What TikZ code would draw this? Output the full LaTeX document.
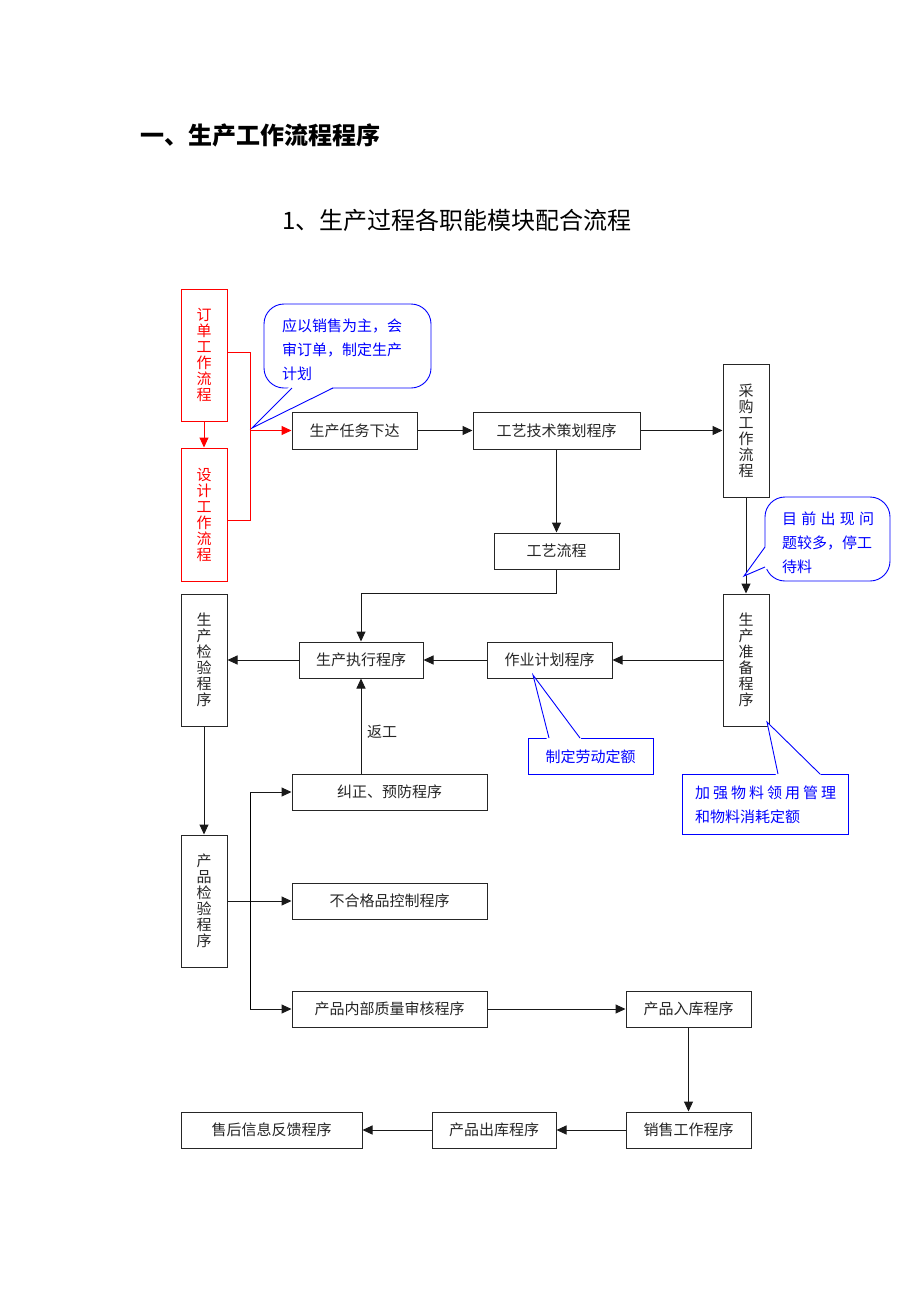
\documentclass[tikz,border=0pt]{standalone}
\usepackage{fontspec}
\setmainfont{Noto Sans CJK SC}
\usetikzlibrary{arrows.meta}
\begin{document}
\begin{tikzpicture}[x=1pt,y=-1pt,
  box/.style={draw=black!85, line width=1pt, fill=white, inner sep=0pt, font=\fontsize{15}{16}\selectfont, text=black!85},
  hbox/.style={box, minimum width=125pt, minimum height=36pt},
  wbox/.style={box, minimum width=195pt, minimum height=36pt},
  vbox/.style={box, minimum width=46pt, minimum height=132pt, align=center},
  rbox/.style={vbox, draw=red, text=red},
  arr/.style={-{Triangle[length=10pt,width=9pt]}, line width=1pt, draw=black!90},
  rarr/.style={-{Triangle[length=10pt,width=9pt]}, line width=1pt, draw=red},
  conn/.style={line width=1pt},
  call/.style={draw=blue, line width=0.9pt},
  ctext/.style={text=blue, font=\fontsize{15}{24}\selectfont, inner sep=0pt, anchor=north west, align=left},
  lbl/.style={text=black!85, font=\fontsize{15}{16}\selectfont, inner sep=0pt}
]
\useasboundingbox (0,0) rectangle (920,1302);

% titles
\node[anchor=west, inner sep=0pt, font=\fontsize{24}{28}\selectfont\bfseries] (title) at (140,135) {一、生产工作流程程序};
\node[anchor=west, inner sep=0pt, font=\fontsize{24}{28}\selectfont] (subtitle) at (282,220) {1、生产过程各职能模块配合流程};

% callout 1
\draw[call, fill=white, rounded corners=20pt] (264,304) rectangle (431,388);
\fill[white] (290,386) -- (335,386) -- (252,428) -- cycle;
\coordinate (tip1) at (252,428);
\draw[call] (292,388) -- (tip1) -- (333,388);
\node[ctext] (c1) at (282,319) {应以销售为主，会\\审订单，制定生产\\计划};

% boxes
\node[rbox] (dingdan) at (204,355) {订\\单\\工\\作\\流\\程};
\node[rbox, minimum height=133pt] (sheji) at (204,514.5) {设\\计\\工\\作\\流\\程};
\node[box, minimum width=125pt, minimum height=37pt] (renwu) at (354.5,430.5) {生产任务下达};
\node[box, minimum width=167pt, minimum height=37pt] (gongyi) at (556.5,430.5) {工艺技术策划程序};
\node[vbox, minimum height=133pt] (caigou) at (746,430.5) {采\\购\\工\\作\\流\\程};
\node[hbox] (liucheng) at (556.5,551) {工艺流程};
\node[vbox] (zhunbei) at (746,660) {生\\产\\准\\备\\程\\序};
\node[hbox, minimum width=124pt] (zhixing) at (361,660) {生产执行程序};
\node[vbox] (jianyan) at (204,660) {生\\产\\检\\验\\程\\序};
\node[hbox] (zuoye) at (549.5,660) {作业计划程序};
\node[wbox] (jiuzheng) at (389.5,792) {纠正、预防程序};
\node[wbox] (buhege) at (389.5,901) {不合格品控制程序};
\node[wbox] (neibu) at (389.5,1009) {产品内部质量审核程序};
\node[hbox] (ruku) at (688.5,1009) {产品入库程序};
\node[hbox] (xiaoshou) at (688.5,1130) {销售工作程序};
\node[hbox, minimum width=124pt] (chuku) at (494,1130) {产品出库程序};
\node[box, minimum width=181pt, minimum height=36pt] (shouhou) at (271.5,1130) {售后信息反馈程序};
\node[vbox] (cpjy) at (204,901) {产\\品\\检\\验\\程\\序};

% red connectors
\coordinate (rb) at (250,430.5);
\draw[rarr] (dingdan.south) -- (sheji.north);
\draw[conn, red] (dingdan.east |- 0,352) -- (250,352) -- (250,520) -- (sheji.east |- 0,520);
\draw[rarr] (rb) -- (renwu.west);

% black connectors
\draw[arr] (renwu) -- (gongyi);
\draw[arr] (gongyi) -- (caigou);
\draw[arr] (gongyi) -- (liucheng);
\draw[arr] (caigou) -- (zhunbei);
\draw[arr] (liucheng.south) -- (liucheng.south |- 0,593) -| (zhixing.north);
\draw[arr] (zhunbei) -- (zuoye);
\draw[arr] (zuoye) -- (zhixing);
\draw[arr] (zhixing) -- (jianyan);
\draw[arr] (jianyan) -- (cpjy);
\draw[arr] (jiuzheng.north -| zhixing.south) -- (zhixing.south);
\node[lbl] (fangong) at (382,732) {返工};
\coordinate (b1) at (250,792);
\coordinate (b2) at (250,1009);
\draw[arr] (cpjy) -- (buhege);
\draw[conn] (b1) -- (b2);
\draw[arr] (b1) -- (jiuzheng.west);
\draw[arr] (b2) -- (neibu.west);
\draw[arr] (neibu) -- (ruku);
\draw[arr] (ruku) -- (xiaoshou);
\draw[arr] (xiaoshou) -- (chuku);
\draw[arr] (chuku) -- (shouhou);

% callout 2
\draw[call, fill=white, rounded corners=20pt] (765,497) rectangle (890,581);
\fill[white] (767,545) -- (767,569) -- (744,576) -- cycle;
\coordinate (tip2) at (744,576);
\draw[call] (765,547) -- (tip2) -- (765,567);
\node[ctext] (c2) at (782,512) {\makebox[92pt][s]{目 前 出 现 问}\\题较多，停工\\待料};

% callout 3
\draw[call, fill=white] (528,738) rectangle (653,774);
\fill[white] (547,740) -- (582,740) -- (533,675) -- cycle;
\coordinate (tip3) at (533,675);
\draw[call] (549,738) -- (tip3) -- (580,738);
\node[text=blue, font=\fontsize{15}{16}\selectfont, inner sep=0pt] (c3) at (590.5,757) {制定劳动定额};

% callout 4
\draw[call, fill=white] (682,774) rectangle (848,834);
\fill[white] (776,776) -- (822,776) -- (767,722) -- cycle;
\coordinate (tip4) at (767,722);
\draw[call] (778,774) -- (tip4) -- (820,774);
\node[ctext] (c4) at (695,786) {\makebox[141pt][s]{加 强 物 料 领 用 管 理}\\和物料消耗定额};
\end{tikzpicture}
\end{document}
